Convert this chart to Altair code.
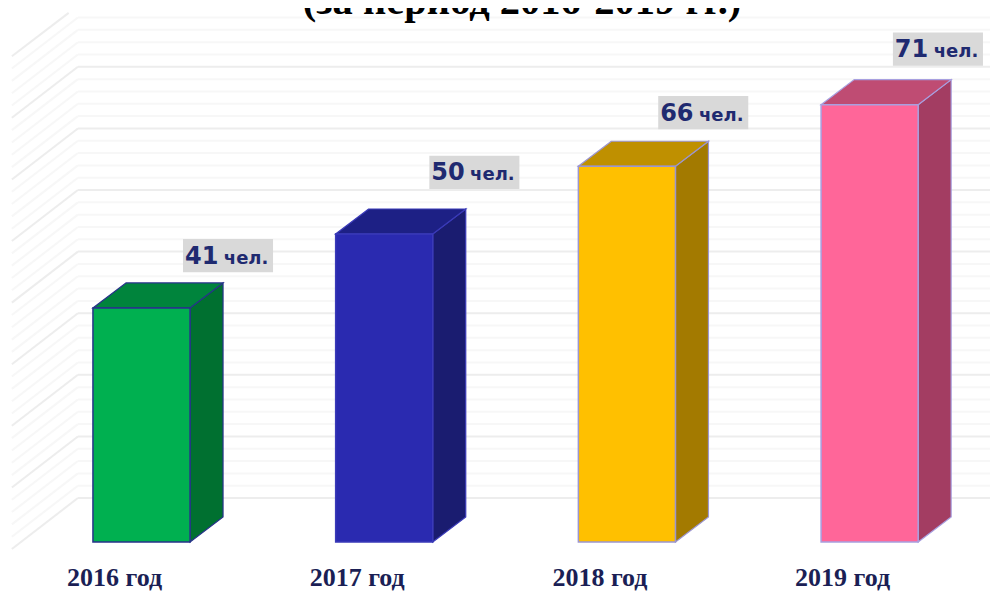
import altair as alt
import pandas as pd

years = ["2016 год", "2017 год", "2018 год", "2019 год"]
bar_heights = [38.0, 50.0, 61.0, 71.0]
value_labels = ["41", "50", "66", "71"]
unit_label = "чел."
front_colors = ["#00b050", "#2a2ab0", "#ffc000", "#ff6699"]
side_colors = ["#007030", "#1a1c70", "#a37a00", "#a33d62"]
top_colors = ["#00843c", "#1d2085", "#bf9000", "#bf4c73"]
edge_colors = ["#27338a", "#3a3ab8", "#9c96d0", "#a8a0e0"]
title_text = "(за период 2016-2019 гг.)"

# layout, in scale units
BAR_W, DEPTH_X, DEPTH_Y = 0.40, 0.136, 4.06
WALL_BACK_X, WALL_FRONT_X, WALL_BACK_Y, WALL_FRONT_Y = -0.062, -0.334, 7.14, -1.14
X_DOM = [-0.35, 3.696]
PLOT_W, PLOT_H = 982, 585
Y_DOM = [-8.28, 86.69]
label_x = [0.371, 1.386, 2.329, 3.296]   # left edge of the grey boxes
label_y = [46.5, 60.0, 69.7, 80.0]       # centre of the grey boxes
LABEL_W, LABEL_H = 0.371, 2.7

x_s = alt.Scale(domain=X_DOM, nice=False, zero=False)
y_s = alt.Scale(domain=Y_DOM, nice=False, zero=False)
X = lambda f="x": alt.X(f"{f}:Q", scale=x_s, axis=None)
Y = lambda f="y": alt.Y(f"{f}:Q", scale=y_s, axis=None)

levels = list(range(0, 80, 2))
grid = pd.DataFrame({
    "x": WALL_BACK_X, "x2": X_DOM[1], "y": [l + WALL_BACK_Y for l in levels],
    "major": [l % 10 == 0 for l in levels],
})
diag = pd.DataFrame({
    "x": WALL_FRONT_X, "x2": WALL_BACK_X, "y": [l + WALL_FRONT_Y for l in levels],
    "y2": [l + WALL_BACK_Y for l in levels], "major": [l % 10 == 0 for l in levels],
})
diag_top = pd.DataFrame({"x": [WALL_FRONT_X], "x2": [-0.10], "y": [78.86], "y2": [85.9], "major": [True]})
diag = pd.concat([diag, diag_top])

def rules(df, with_y2):
    layers = []
    for major, color in ((False, "#f7f7f7"), (True, "#ededed")):
        enc = {"x": X(), "x2": "x2:Q", "y": Y()}
        if with_y2:
            enc["y2"] = "y2:Q"
        layers.append(alt.Chart(df[df.major == major]).mark_rule(color=color, strokeWidth=2).encode(**enc))
    return layers

layers = rules(diag, True) + rules(grid, False)

for i, h in enumerate(bar_heights):
    l, r = i, i + BAR_W
    front = pd.DataFrame({"x": [l], "x2": [r], "y": [0.0], "y2": [h]})
    side = pd.DataFrame({"x": [r, r + DEPTH_X], "y": [0.0, DEPTH_Y], "y2": [h, h + DEPTH_Y]})
    top = pd.DataFrame({"y": [h, h + DEPTH_Y], "x": [l, l + DEPTH_X], "x2": [r, r + DEPTH_X]})
    layers.append(alt.Chart(side).mark_area(color=side_colors[i], stroke=edge_colors[i], strokeWidth=1.2).encode(x=X(), y=Y(), y2="y2:Q"))
    layers.append(alt.Chart(top).mark_area(orient="horizontal", color=top_colors[i], stroke=edge_colors[i], strokeWidth=1.2).encode(y=Y(), x=X(), x2="x2:Q"))
    layers.append(alt.Chart(front).mark_rect(color=front_colors[i], stroke=edge_colors[i], strokeWidth=1.5).encode(x=X(), x2="x2:Q", y=Y(), y2="y2:Q"))

boxes = pd.DataFrame({
    "x": label_x, "x2": [v + LABEL_W for v in label_x],
    "y": [v - LABEL_H for v in label_y], "y2": [v + LABEL_H for v in label_y],
    "value": value_labels, "unit": [unit_label] * 4,
    "ux": [v + 0.168 for v in label_x], "vx": [v + 0.008 for v in label_x],
    "ty": [v - 1.3 for v in label_y],
})
layers.append(alt.Chart(boxes).mark_rect(color="#d9d9d9").encode(x=X(), x2="x2:Q", y=Y(), y2="y2:Q"))
layers.append(alt.Chart(boxes).mark_text(font="DejaVu Sans", fontWeight="bold", fontSize=24, align="left", baseline="alphabetic", color="#1f2a70").encode(x=X("vx"), y=Y("ty"), text="value:N"))
layers.append(alt.Chart(boxes).mark_text(font="DejaVu Sans", fontWeight="bold", fontSize=18, align="left", baseline="alphabetic", color="#1f2a70").encode(x=X("ux"), y=Y("ty"), text="unit:N"))

cats = pd.DataFrame({"x": [i - 0.107 for i in range(4)], "y": [-7.2] * 4, "t": years})
layers.append(alt.Chart(cats).mark_text(font="Liberation Serif", fontWeight="bold", fontSize=26, align="left", baseline="alphabetic", color="#1b1f55").encode(x=X(), y=Y(), text="t:N"))

ttl = pd.DataFrame({"x": [1.768], "y": [85.7], "t": [title_text]})
layers.append(alt.Chart(ttl).mark_text(font="Liberation Serif", fontWeight="bold", fontSize=40.5, align="center", baseline="alphabetic", color="#000000").encode(x=X(), y=Y(), text="t:N"))

chart = alt.layer(*layers).properties(
    width=PLOT_W, height=PLOT_H, padding=0, autosize=alt.AutoSizeParams(type="none"), background="white"
).configure_view(stroke=None)

chart.save("out.html", embed_options={"renderer": "svg", "actions": False})
